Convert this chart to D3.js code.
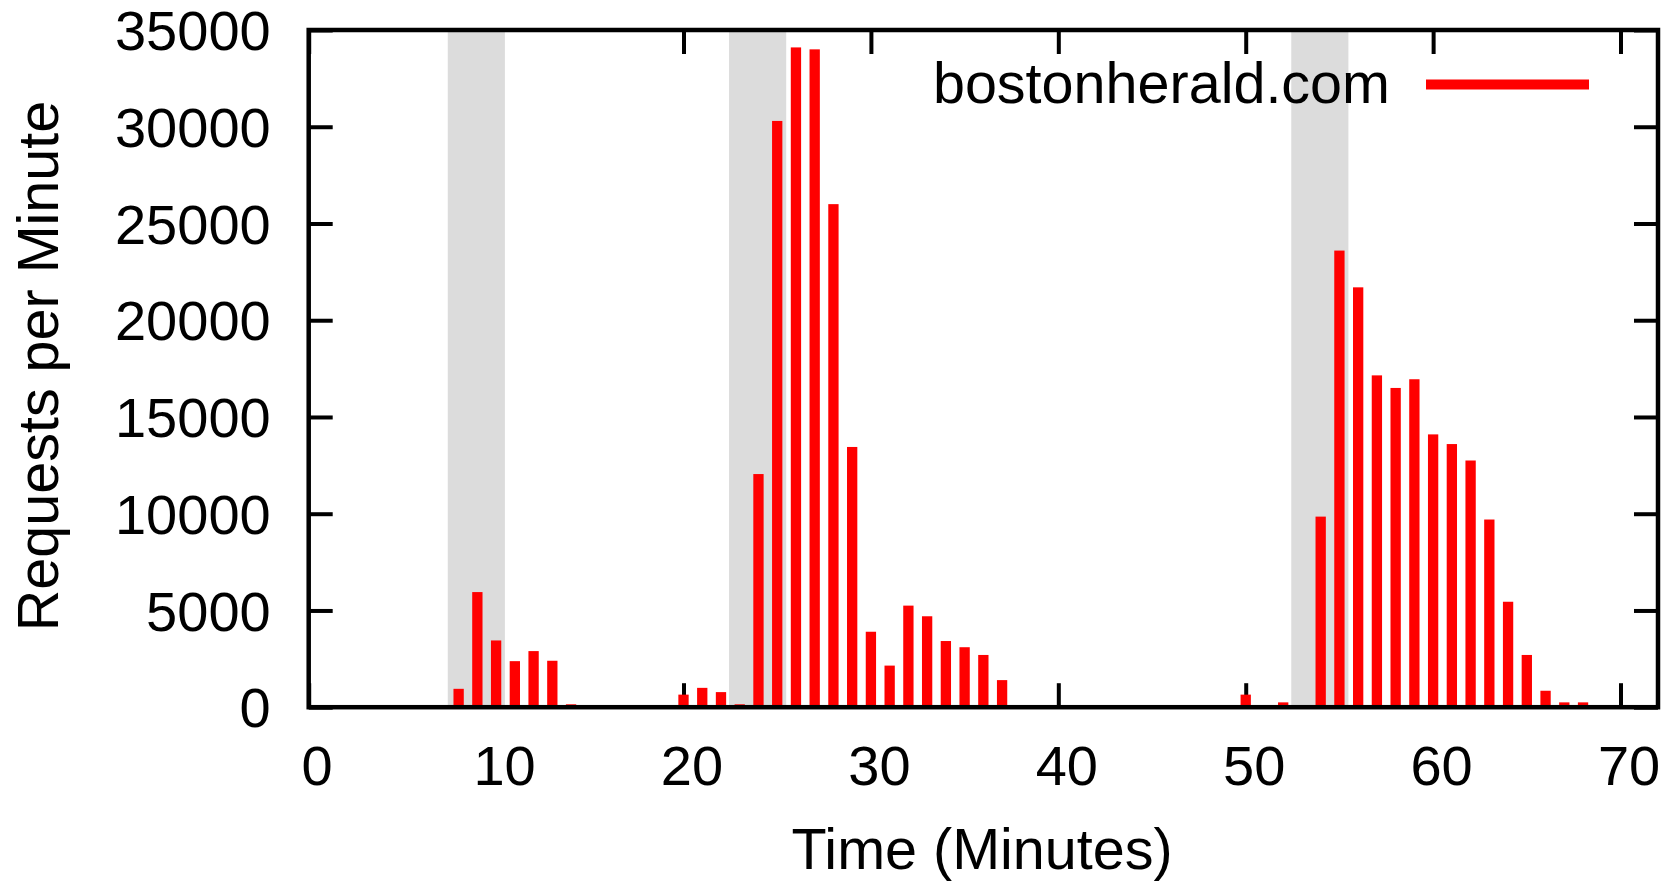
<!DOCTYPE html>
<html><head><meta charset="utf-8">
<script src="https://cdn.jsdelivr.net/npm/d3@7"></script>
<style>
html,body{margin:0;padding:0;background:#fff;}
svg{display:block;}
text{font-family:"Liberation Sans",Arial,Helvetica,sans-serif;}
</style>
</head><body>
<svg id="chart" width="1675" height="883"></svg>
<script>
// ---- data ----
const minutes  = [8, 9, 10, 11, 12, 13, 14,
                  20, 21, 22, 23, 24, 25, 26, 27, 28, 29, 30, 31, 32, 33, 34, 35, 36, 37,
                  50, 52, 54, 55, 56, 57, 58, 59, 60, 61, 62, 63, 64, 65, 66, 67, 68];
const requests = [950, 5950, 3450, 2380, 2900, 2400, 150,
                  650, 1000, 780, 150, 12050, 30300, 34100, 34000, 26000, 13450, 3900, 2150, 5250, 4700, 3420, 3100, 2700, 1400,
                  650, 250, 9850, 23600, 21700, 17150, 16500, 16950, 14100, 13600, 12750, 9700, 5450, 2700, 850, 250, 250];
const shadeStart = [7.42, 22.43, 52.43];
const shadeEnd   = [10.47, 25.48, 55.48];
const xTicks = [0, 10, 20, 30, 40, 50, 60, 70];
const yTicks = [0, 5000, 10000, 15000, 20000, 25000, 30000, 35000];
const xDomain = [0, 72];
const yDomain = [0, 35000];
const barWidthMin = 0.55;
const seriesName = "bostonherald.com";
const xTitle = "Time (Minutes)";
const yTitle = "Requests per Minute";

// ---- layout ----
const L = 308.7, R = 1658, T = 30, B = 707.2;
const FS = 56, FT = 57.5;
const svg = d3.select("#chart");
const x = d3.scaleLinear().domain(xDomain).range([L, R]);
const y = d3.scaleLinear().domain(yDomain).range([B, T]);

function styleAxis(g, showText) {
  g.select(".domain").remove();
  g.selectAll(".tick line").attr("stroke", "#000").attr("stroke-width", 4);
  g.attr("font-family", null).attr("font-size", null);
  g.selectAll(".tick text").attr("fill", "#000").style("font-size", FS + "px");
  if (!showText) g.selectAll(".tick text").remove();
}

// ticks (drawn first, gnuplot style inward)
const gx = svg.append("g").attr("transform", `translate(0,${B})`)
  .call(d3.axisBottom(x).tickValues(xTicks).tickSize(-24).tickPadding(38).tickFormat(d3.format("d")));
styleAxis(gx, true);
gx.selectAll(".tick text").attr("dx", 8);

const gxt = svg.append("g").attr("transform", `translate(0,${T})`)
  .call(d3.axisTop(x).tickValues(xTicks).tickSize(-24));
styleAxis(gxt, false);

const gy = svg.append("g").attr("transform", `translate(${L},0)`)
  .call(d3.axisLeft(y).tickValues(yTicks).tickSize(-24).tickPadding(38).tickFormat(d3.format("d")));
styleAxis(gy, true);
gy.selectAll(".tick text").attr("dy", "0.35em");

const gyr = svg.append("g").attr("transform", `translate(${R},0)`)
  .call(d3.axisRight(y).tickValues(yTicks).tickSize(-24));
styleAxis(gyr, false);

// shaded intervals
svg.append("g").selectAll("rect").data(shadeStart.map((s, i) => [s, shadeEnd[i]]))
  .join("rect")
  .attr("x", d => x(d[0]))
  .attr("width", d => x(d[1]) - x(d[0]))
  .attr("y", T)
  .attr("height", B - T)
  .attr("fill", "#dcdcdc");

// bars
const bw = x(barWidthMin) - x(0);
svg.append("g").selectAll("rect").data(minutes.map((m, i) => ({m, v: requests[i]})))
  .join("rect")
  .attr("x", d => x(d.m) - bw / 2)
  .attr("width", bw)
  .attr("y", d => y(d.v))
  .attr("height", d => y(0) - y(d.v))
  .attr("fill", "#ff0000");

// border
svg.append("rect")
  .attr("x", L).attr("y", T)
  .attr("width", R - L).attr("height", B - T)
  .attr("fill", "none").attr("stroke", "#000").attr("stroke-width", 4.5);

// legend
svg.append("text")
  .attr("x", 1390).attr("y", 103)
  .attr("text-anchor", "end")
  .style("font-size", FT + "px")
  .attr("fill", "#000")
  .text(seriesName);
svg.append("line")
  .attr("x1", 1426).attr("x2", 1589)
  .attr("y1", 84.5).attr("y2", 84.5)
  .attr("stroke", "#ff0000").attr("stroke-width", 10);

// axis titles
svg.append("text")
  .attr("x", 982).attr("y", 869)
  .attr("text-anchor", "middle")
  .style("font-size", FT + "px")
  .attr("fill", "#000")
  .text(xTitle);
svg.append("text")
  .attr("transform", `translate(58,366) rotate(-90)`)
  .attr("text-anchor", "middle")
  .style("font-size", FT + "px")
  .attr("fill", "#000")
  .text(yTitle);
</script>
</body></html>
